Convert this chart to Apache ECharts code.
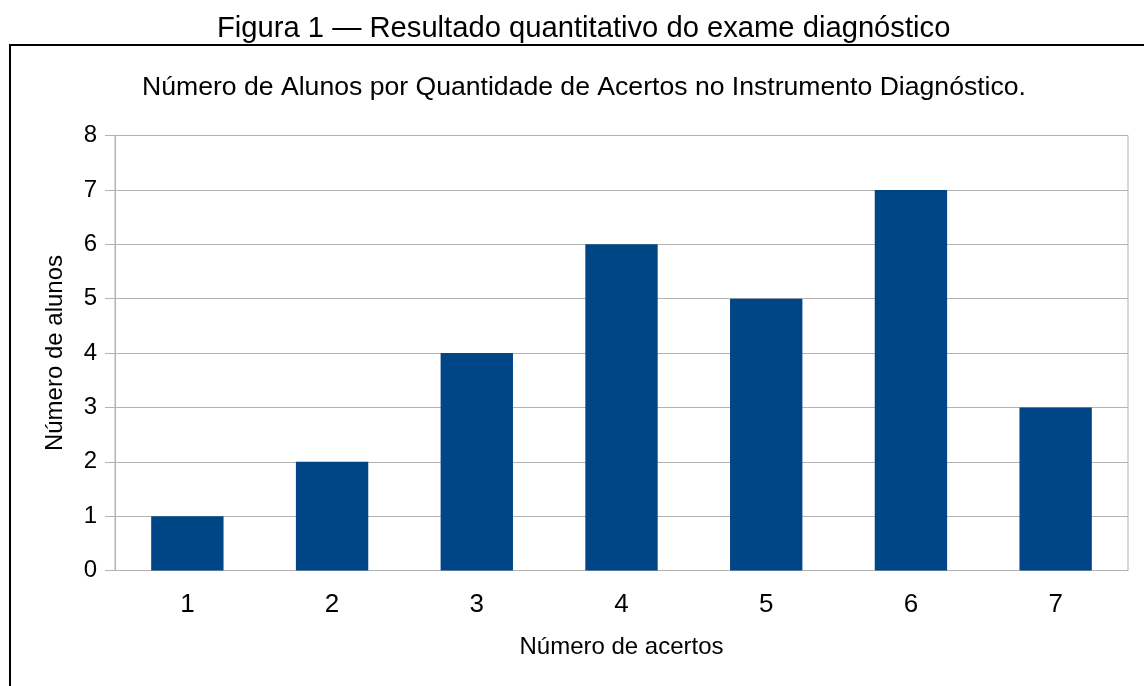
<!DOCTYPE html>
<html>
<head>
<meta charset="utf-8">
<script src="https://cdn.jsdelivr.net/npm/echarts@6/dist/echarts.min.js"></script>
<style>
  html, body { margin: 0; padding: 0; background: #fff; }
  #main { width: 1144px; height: 686px; }
</style>
</head>
<body>
<div id="main"></div>
<script>
// dados do gráfico
var categorias = ['1', '2', '3', '4', '5', '6', '7']
var alunos = [1, 2, 4, 6, 5, 7, 3]

var fonte = '"Liberation Sans", Arial, sans-serif'
var chart = echarts.init(document.getElementById('main'))

var options = {
  backgroundColor: '#fff',
  title: [{
    text: 'Figura 1 — Resultado quantitativo do exame diagnóstico',
    left: 212,
    top: 9,
    textStyle: { fontFamily: fonte, fontWeight: 'normal', fontSize: 29.2, color: '#000' }
  }, {
    text: 'Número de Alunos por Quantidade de Acertos no Instrumento Diagnóstico.',
    left: 137,
    top: 69,
    textStyle: { fontFamily: fonte, fontWeight: 'normal', fontSize: 26.6, color: '#000' }
  }],
  graphic: [{
    type: 'line',
    shape: { x1: 9, y1: 45, x2: 1144, y2: 45 },
    style: { stroke: '#000', lineWidth: 2 }
  }, {
    type: 'line',
    shape: { x1: 10, y1: 45, x2: 10, y2: 686 },
    style: { stroke: '#000', lineWidth: 2 }
  }],
  grid: {
    left: 115,
    right: 16,
    top: 135.5,
    bottom: 115.5,
    show: true,
    borderColor: '#b3b3b3',
    borderWidth: 1
  },
  xAxis: {
    type: 'category',
    data: categorias,
    name: 'Número de acertos',
    nameLocation: 'middle',
    nameGap: 65,
    nameTextStyle: { fontFamily: fonte, fontSize: 24, color: '#000' },
    axisLine: { lineStyle: { color: '#b3b3b3' } },
    axisTick: { length: 10, lineStyle: { color: '#b3b3b3' } },
    axisLabel: { fontFamily: fonte, fontSize: 26, color: '#000', margin: 21 }
  },
  yAxis: {
    type: 'value',
    min: 0,
    max: 8,
    interval: 1,
    name: 'Número de alunos',
    nameLocation: 'middle',
    nameGap: 48,
    nameTextStyle: { fontFamily: fonte, fontSize: 24, color: '#000' },
    axisLine: { show: true, lineStyle: { color: '#b3b3b3' } },
    axisTick: { show: true, length: 10, lineStyle: { color: '#b3b3b3' } },
    axisLabel: { fontFamily: fonte, fontSize: 24, color: '#000', margin: 18 },
    splitLine: { lineStyle: { color: '#b3b3b3' } }
  },
  series: [{
    type: 'bar',
    data: alunos,
    barWidth: '50%',
    itemStyle: { color: '#004586' }
  }]
}

chart.setOption(options)
</script>
</body>
</html>
